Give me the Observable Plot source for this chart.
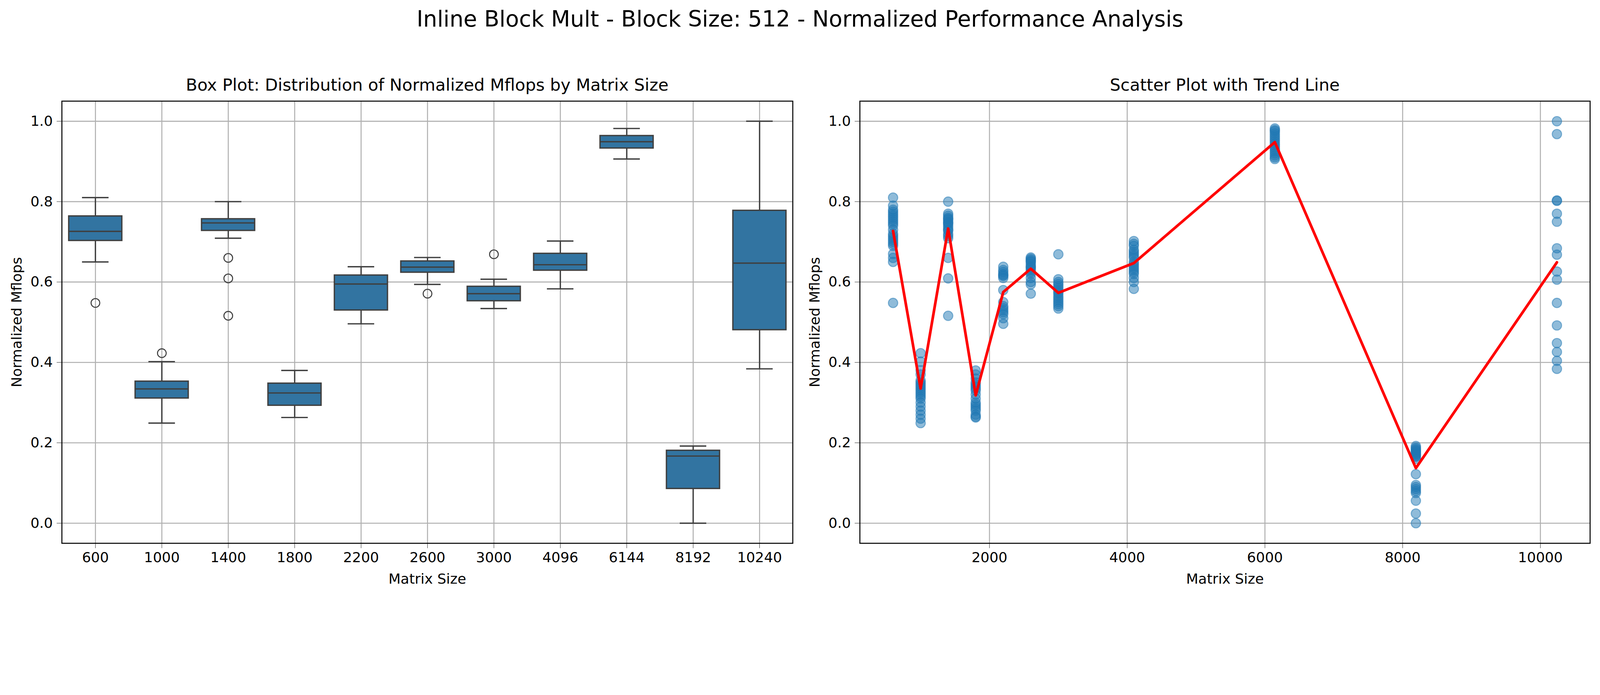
<!DOCTYPE html>
<html><head><meta charset="utf-8">
<script src="https://cdn.jsdelivr.net/npm/d3@7"></script>
<script src="https://cdn.jsdelivr.net/npm/@observablehq/plot@0.6"></script>
<style>
html,body{margin:0;padding:0;background:#fff;font-family:"DejaVu Sans",sans-serif;overflow:hidden;}
#wrap{position:relative;width:4770px;height:1779px;transform-origin:0 0;}
.t{position:absolute;text-align:center;color:#000;white-space:nowrap;}
#l{position:absolute;left:0;top:0}
#r{position:absolute;left:2463px;top:0}
</style></head><body>
<div id="wrap">
<div class="t" style="left:0;width:4770px;top:18px;font-size:66px">Inline Block Mult - Block Size: 512 - Normalized Performance Analysis</div>
<div class="t" style="left:184px;width:2179px;top:224px;font-size:50px">Box Plot: Distribution of Normalized Mflops by Matrix Size</div>
<div class="t" style="left:2563px;width:2177px;top:224px;font-size:50px">Scatter Plot with Trend Line</div>
<div id="l"></div><div id="r"></div>
</div>
<script>
const sizes = ["600","1000","1400","1800","2200","2600","3000","4096","6144","8192","10240"];
const q1  = [0.703,0.311,0.728,0.293,0.530,0.624,0.553,0.629,0.933,0.086,0.481];
const med = [0.726,0.334,0.747,0.324,0.595,0.637,0.571,0.643,0.949,0.167,0.647];
const q3  = [0.764,0.353,0.757,0.348,0.617,0.652,0.589,0.671,0.964,0.181,0.778];
const lo  = [0.650,0.249,0.709,0.263,0.496,0.594,0.534,0.583,0.906,0.000,0.384];
const hi  = [0.810,0.402,0.800,0.380,0.638,0.661,0.607,0.702,0.982,0.192,1.000];
const outliers = [[0.548],[0.423],[0.660,0.609,0.516],[],[],[0.571],[0.669],[],[],[],[]];
const points = [
 [0.81,0.79,0.78,0.775,0.77,0.765,0.76,0.755,0.75,0.745,0.74,0.73,0.72,0.715,0.71,0.705,0.70,0.695,0.69,0.67,0.66,0.65,0.548],
 [0.423,0.402,0.38,0.37,0.355,0.35,0.345,0.34,0.335,0.33,0.325,0.32,0.315,0.31,0.30,0.29,0.28,0.27,0.26,0.249],
 [0.80,0.77,0.765,0.76,0.757,0.755,0.75,0.747,0.745,0.74,0.735,0.73,0.728,0.72,0.715,0.709,0.66,0.609,0.516],
 [0.38,0.37,0.36,0.35,0.345,0.34,0.335,0.33,0.32,0.31,0.30,0.295,0.29,0.285,0.28,0.27,0.265,0.263],
 [0.638,0.63,0.625,0.62,0.617,0.615,0.61,0.58,0.55,0.54,0.535,0.53,0.525,0.52,0.51,0.496],
 [0.661,0.658,0.655,0.652,0.65,0.645,0.64,0.637,0.635,0.63,0.625,0.62,0.61,0.6,0.594,0.571],
 [0.669,0.607,0.60,0.595,0.59,0.585,0.58,0.575,0.571,0.565,0.56,0.555,0.55,0.545,0.54,0.534],
 [0.702,0.695,0.69,0.68,0.675,0.67,0.665,0.66,0.65,0.645,0.64,0.635,0.63,0.625,0.62,0.61,0.60,0.583],
 [0.982,0.978,0.975,0.97,0.965,0.96,0.955,0.95,0.945,0.94,0.935,0.93,0.925,0.92,0.915,0.91,0.906],
 [0.192,0.188,0.185,0.182,0.18,0.177,0.175,0.172,0.17,0.167,0.165,0.16,0.122,0.095,0.09,0.085,0.08,0.075,0.056,0.024,0.0],
 [1.0,0.968,0.803,0.802,0.77,0.75,0.684,0.668,0.626,0.606,0.548,0.492,0.448,0.426,0.404,0.384]
];
const means = [0.727,0.335,0.733,0.318,0.575,0.633,0.573,0.647,0.948,0.137,0.649];
const xTicks = [2000,4000,6000,8000,10000];
const yTicks = [0,0.2,0.4,0.6,0.8,1.0];

const s = Math.min(window.innerWidth/4770, window.innerHeight/1779);
document.getElementById("wrap").style.transform = `scale(${s})`;

const boxes = sizes.map((d,i)=>({size:d,q1:q1[i],med:med[i],q3:q3[i],lo:lo[i],hi:hi[i]}));
const outs = sizes.flatMap((d,i)=>outliers[i].map(v=>({size:d,v})));
const pts = sizes.flatMap((d,i)=>points[i].map(v=>({x:+d,v})));
const trend = sizes.map((d,i)=>({x:+d,v:means[i]}));

const common = {height:1779, marginTop:301, marginBottom:160,
  style:{fontSize:"42px",fontFamily:"DejaVu Sans",background:"transparent",overflow:"visible"}};
const yAxis = {domain:[-0.05,1.05], ticks:yTicks, tickFormat:d3.format(".1f"),
  label:"Normalized Mflops", labelAnchor:"center", labelArrow:"none", tickSize:15, tickPadding:12, labelOffset:150};
const xAxisBase = {label:"Matrix Size", labelAnchor:"center", labelArrow:"none", tickSize:15, tickPadding:12, labelOffset:120};
const gridStyle = {stroke:"#b0b0b0", strokeOpacity:1, strokeWidth:3};
const bw = 2179/11;
const ec = "#3f3f3f";

const left = Plot.plot({...common, width:2463, marginLeft:184, marginRight:100,
  x:{...xAxisBase, domain:sizes, padding:0},
  y:{...yAxis},
  marks:[
    Plot.gridX(sizes,{...gridStyle}),
    Plot.gridY(yTicks,{...gridStyle}),
    Plot.ruleX(boxes,{x:"size",y1:"lo",y2:"q1",stroke:ec,strokeWidth:4}),
    Plot.ruleX(boxes,{x:"size",y1:"q3",y2:"hi",stroke:ec,strokeWidth:4}),
    Plot.tickY(boxes,{x:"size",y:"lo",stroke:ec,strokeWidth:4,insetLeft:bw*0.3,insetRight:bw*0.3}),
    Plot.tickY(boxes,{x:"size",y:"hi",stroke:ec,strokeWidth:4,insetLeft:bw*0.3,insetRight:bw*0.3}),
    Plot.barY(boxes,{x:"size",y1:"q1",y2:"q3",fill:"#3274a1",stroke:ec,strokeWidth:4,insetLeft:bw*0.1,insetRight:bw*0.1}),
    Plot.tickY(boxes,{x:"size",y:"med",stroke:ec,strokeWidth:4,insetLeft:bw*0.1,insetRight:bw*0.1}),
    Plot.dot(outs,{x:"size",y:"v",r:13,stroke:ec,strokeWidth:3,fill:"none"}),
    Plot.frame({stroke:"#000",strokeWidth:3})
  ]});
document.getElementById("l").appendChild(left);

const right = Plot.plot({...common, width:2307, marginLeft:100, marginRight:30,
  x:{...xAxisBase, domain:[118,10722], ticks:xTicks, tickFormat:d => String(d)},
  y:{...yAxis},
  marks:[
    Plot.gridX(xTicks,{...gridStyle}),
    Plot.gridY(yTicks,{...gridStyle}),
    Plot.dot(pts,{x:"x",y:"v",r:14,fill:"#1f77b4",fillOpacity:0.5,stroke:"#1f77b4",strokeOpacity:0.5,strokeWidth:3}),
    Plot.line(trend,{x:"x",y:"v",stroke:"red",strokeWidth:8}),
    Plot.frame({stroke:"#000",strokeWidth:3})
  ]});
document.getElementById("r").appendChild(right);
</script>
</body></html>
